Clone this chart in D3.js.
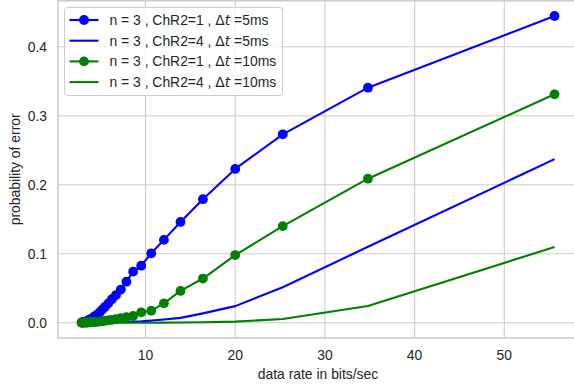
<!DOCTYPE html>
<html>
<head>
<meta charset="utf-8">
<script src="https://cdn.jsdelivr.net/npm/d3@7"></script>
<style>
  body { margin: 0; background: #fff; }
  svg { display: block; font-family: "Liberation Sans", Arial, sans-serif; }
</style>
</head>
<body>
<svg id="chart"></svg>
<script>
// data rates shared by every series (bits/sec)
const rates = [55.6, 34.8, 25.3, 20.0, 16.4, 13.9, 12.05, 10.64, 9.52, 8.62, 7.87, 7.25, 6.71, 6.25, 5.85, 5.49,
  5.18, 4.90, 4.65, 4.42, 4.22, 4.03, 3.86, 3.70, 3.56, 3.42, 3.30, 3.18, 3.07, 2.97, 2.88];

// ChR2=1, dt=5ms (markers)
const chr1_5ms = [0.4445, 0.3406, 0.273, 0.2228, 0.179, 0.146, 0.120, 0.1006, 0.0826, 0.074, 0.0594, 0.048, 0.040,
  0.034, 0.028, 0.023, 0.019, 0.015, 0.012, 0.010, 0.008, 0.006, 0.005, 0.004, 0.003, 0.002, 0.0015, 0.001, 0.0008,
  0.0005, 0.0003];
// ChR2=4, dt=5ms
const chr4_5ms = [0.237, 0.110, 0.0513, 0.024, 0.0135, 0.007, 0.0045, 0.003, 0.002, 0.0015, 0.001, 0.0008, 0.0006,
  0.0005, 0.0004, 0.0003, 0.0002, 0.0002, 0.0001, 0.0001, 0.0001, 0, 0, 0, 0, 0, 0, 0, 0, 0, 0];
// ChR2=1, dt=10ms (markers)
const chr1_10ms = [0.331, 0.2087, 0.140, 0.098, 0.064, 0.046, 0.028, 0.0174, 0.015, 0.0097, 0.008, 0.0065, 0.005,
  0.004, 0.0033, 0.0027, 0.0022, 0.0018, 0.0014, 0.0011, 0.0009, 0.0007, 0.0005, 0.0004, 0.0003, 0.0002, 0.0002,
  0.0001, 0.0001, 0.0001, 0];
// ChR2=4, dt=10ms
const chr4_10ms = [0.1097, 0.0242, 0.0054, 0.0015, 0.0007, 0.0003, 0.0001, 0, 0, 0, 0, 0, 0, 0, 0, 0, 0, 0, 0, 0,
  0, 0, 0, 0, 0, 0, 0, 0, 0, 0, 0];

const labels = ["n = 3 , ChR2=1 , ", "n = 3 , ChR2=4 , ", "n = 3 , ChR2=1 , ", "n = 3 , ChR2=4 , "];
const labelTails = ["5ms", "5ms", "10ms", "10ms"];
const xTicks = [10, 20, 30, 40, 50];
const yTicks = [0.0, 0.1, 0.2, 0.3, 0.4];

const series = [
  { values: chr1_5ms, color: "#0000ff", marker: true },
  { values: chr4_5ms, color: "#0000ff", marker: false },
  { values: chr1_10ms, color: "#008000", marker: true },
  { values: chr4_10ms, color: "#008000", marker: false }
];

const width = 574, height = 388;
const plotLeft = 58, plotRight = 578.2, plotTop = 0.7, plotBottom = 338;
const fs = 13.9;

const svg = d3.select("#chart").attr("width", width).attr("height", height);
svg.append("rect").attr("width", width).attr("height", height).attr("fill", "#fff");

const x = d3.scaleLinear().domain([0.244, 58.24]).range([plotLeft, plotRight]);
const y = d3.scaleLinear().domain([-0.0222, 0.4667]).range([plotBottom, plotTop]);

// grid
svg.append("g").selectAll("line").data(xTicks).join("line")
  .attr("x1", d => x(d)).attr("x2", d => x(d)).attr("y1", plotTop).attr("y2", plotBottom)
  .attr("stroke", "#cccccc").attr("stroke-width", 1.1);
svg.append("g").selectAll("line").data(yTicks).join("line")
  .attr("x1", plotLeft).attr("x2", plotRight).attr("y1", d => y(d)).attr("y2", d => y(d))
  .attr("stroke", "#cccccc").attr("stroke-width", 1.1);

// spines
svg.append("rect").attr("x", plotLeft).attr("y", plotTop).attr("width", plotRight - plotLeft)
  .attr("height", plotBottom - plotTop)
  .attr("fill", "none").attr("stroke", "#cccccc").attr("stroke-width", 1.6);

// tick labels
svg.append("g").selectAll("text").data(xTicks).join("text")
  .attr("x", d => x(d)).attr("y", 360).attr("text-anchor", "middle")
  .attr("font-size", fs).attr("fill", "#262626").text(d => d);
svg.append("g").selectAll("text").data(yTicks).join("text")
  .attr("x", 47).attr("y", d => y(d) + 5).attr("text-anchor", "end")
  .attr("font-size", fs).attr("fill", "#262626").text(d => d3.format(".1f")(d));

// axis labels
svg.append("text").attr("x", 318).attr("y", 379).attr("text-anchor", "middle")
  .attr("font-size", fs).attr("fill", "#262626").text("data rate in bits/sec");
svg.append("text").attr("transform", `translate(20,${(plotTop + plotBottom) / 2}) rotate(-90)`)
  .attr("text-anchor", "middle").attr("font-size", fs).attr("fill", "#262626").text("probability of error");

// series
const line = d3.line().x(d => x(d[0])).y(d => y(d[1]));
series.forEach(s => {
  const pts = rates.map((r, i) => [r, s.values[i]]);
  const g = svg.append("g");
  g.append("path").datum(pts).attr("d", line).attr("fill", "none")
    .attr("stroke", s.color).attr("stroke-width", 2.1).attr("stroke-linejoin", "round");
  if (s.marker) {
    g.selectAll("circle").data(pts).join("circle")
      .attr("cx", d => x(d[0])).attr("cy", d => y(d[1])).attr("r", 4.9).attr("fill", s.color);
  }
});

// legend
const lg = svg.append("g");
lg.append("rect").attr("x", 64.5).attr("y", 7.5).attr("width", 218).attr("height", 88).attr("rx", 3)
  .attr("fill", "#fff").attr("fill-opacity", 0.8).attr("stroke", "#cccccc").attr("stroke-width", 1);
series.forEach((s, i) => {
  const ly = 20 + i * 20.7;
  lg.append("line").attr("x1", 69.5).attr("x2", 98.5).attr("y1", ly).attr("y2", ly)
    .attr("stroke", s.color).attr("stroke-width", 2.1);
  if (s.marker) lg.append("circle").attr("cx", 84).attr("cy", ly).attr("r", 4.9).attr("fill", s.color);
  const t = lg.append("text").attr("x", 109.5).attr("y", ly + 5).attr("font-size", fs).attr("fill", "#262626");
  t.append("tspan").text(labels[i]);
  t.append("tspan").attr("font-family", "DejaVu Sans").text("Δ");
  t.append("tspan").attr("font-family", "DejaVu Sans").attr("font-style", "italic").text("t");
  t.append("tspan").text(" =" + labelTails[i]);
});
</script>
</body>
</html>
